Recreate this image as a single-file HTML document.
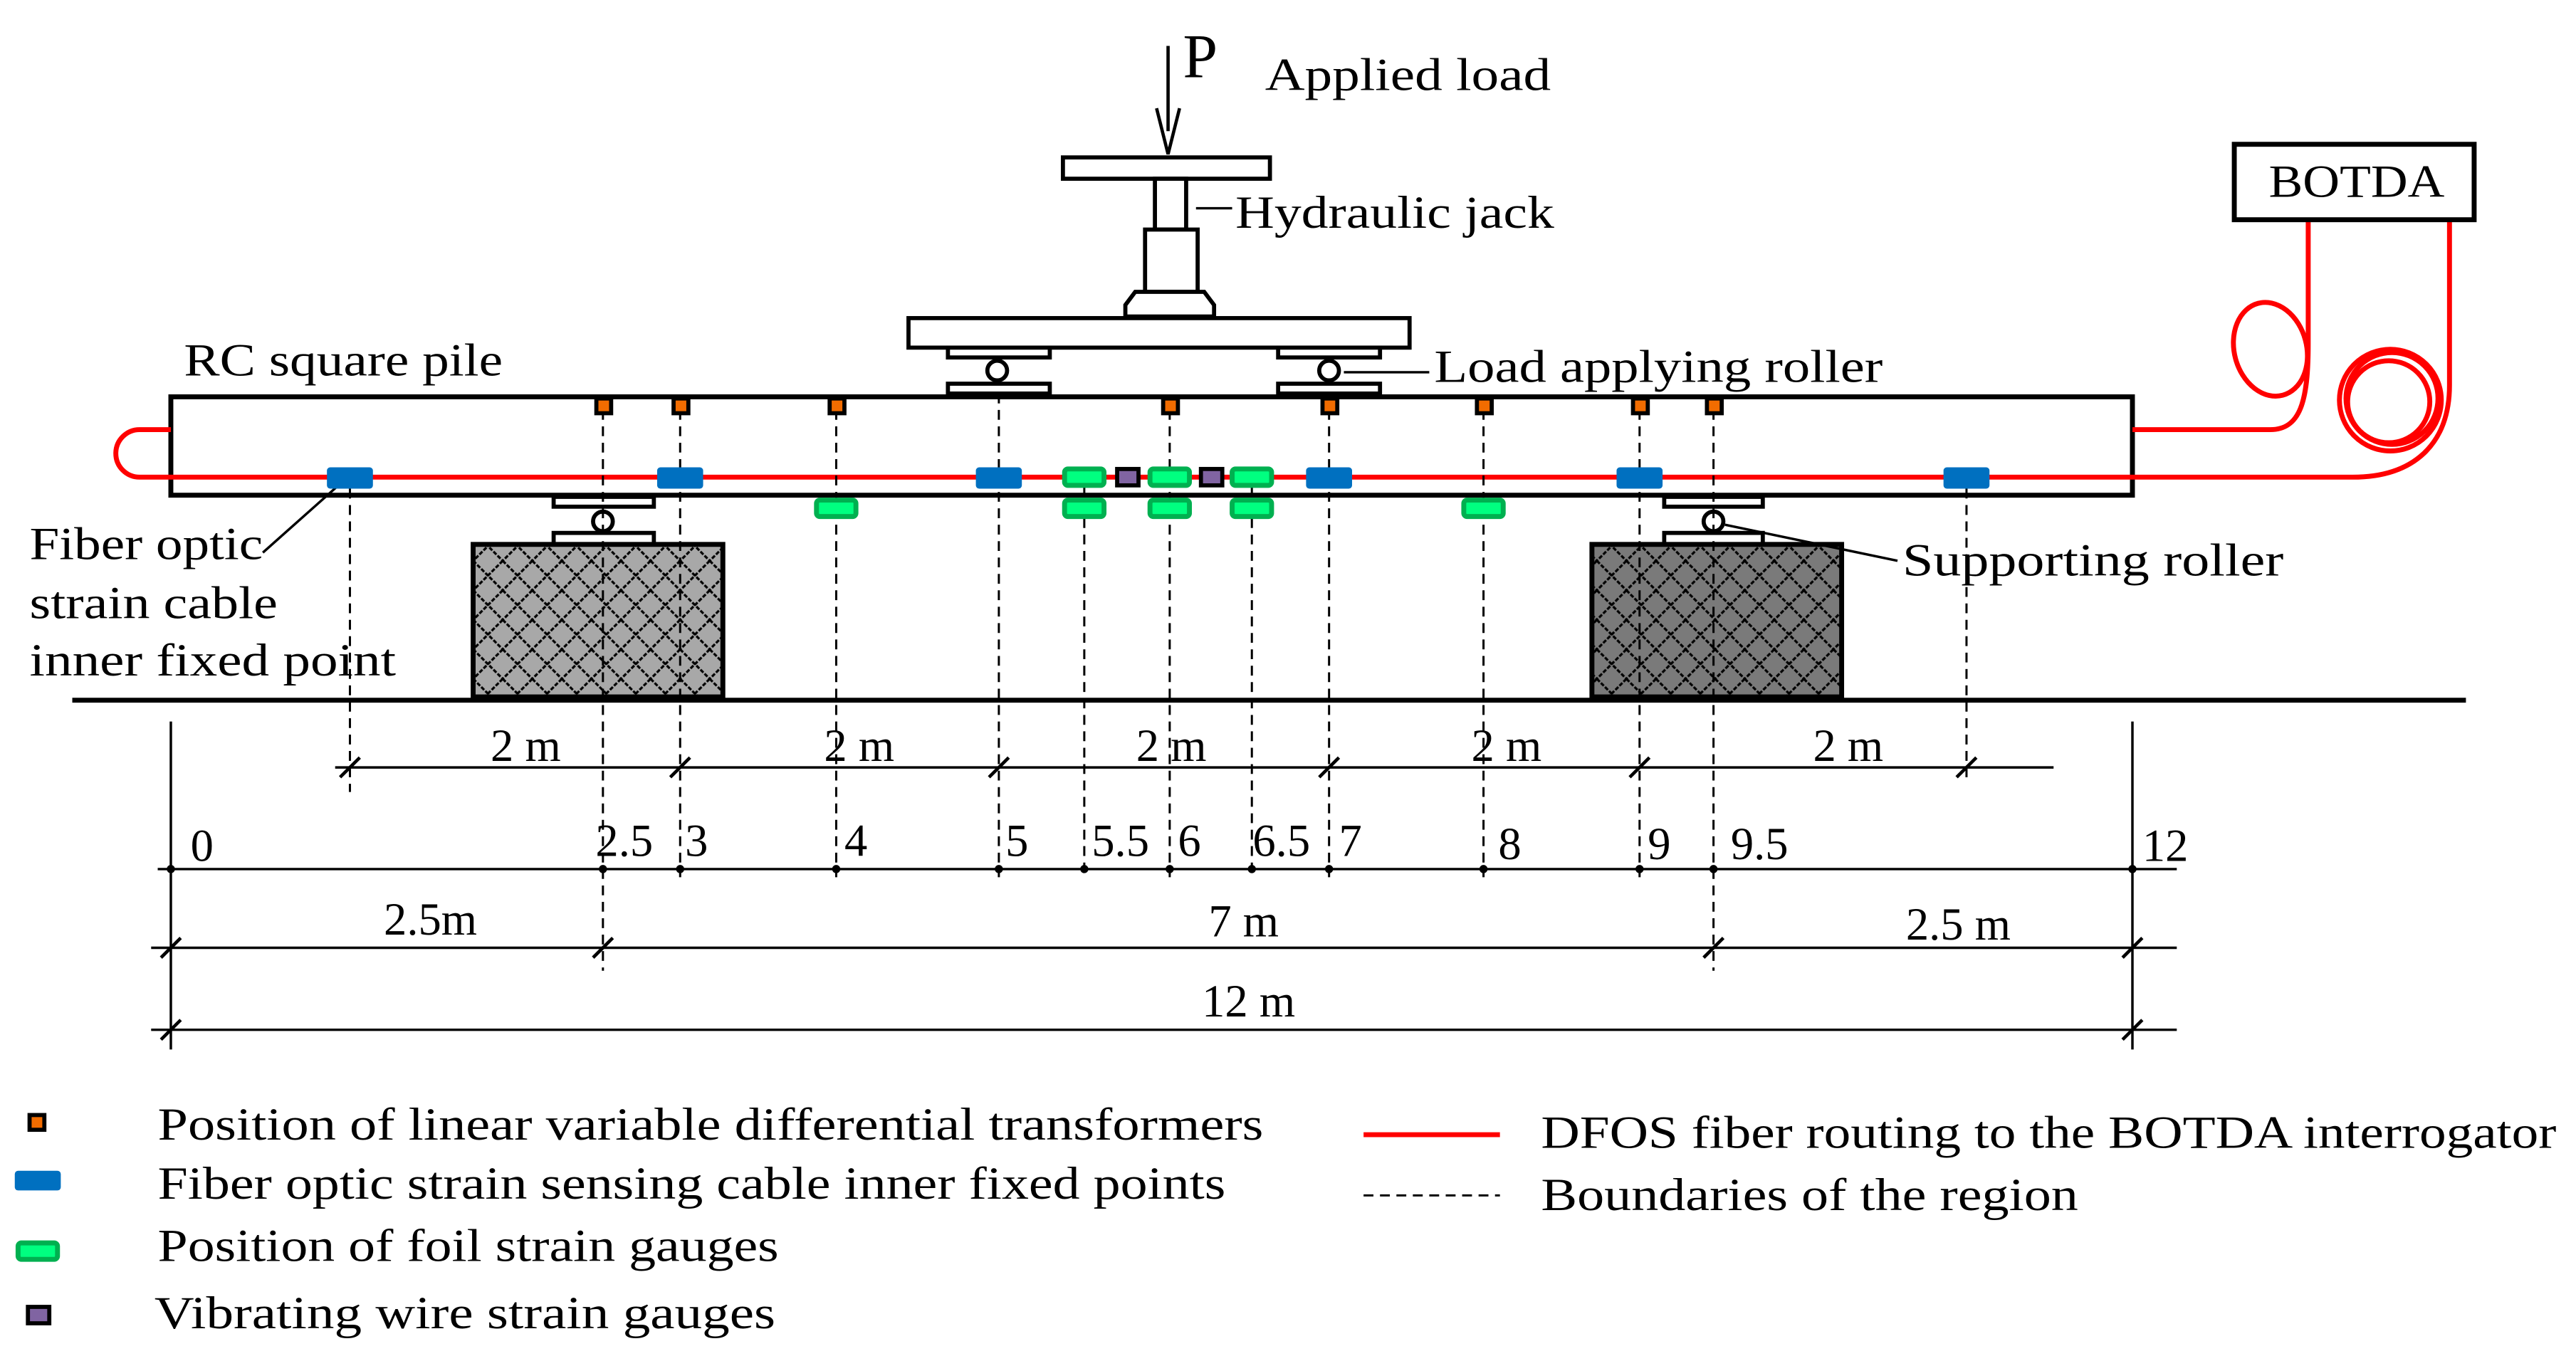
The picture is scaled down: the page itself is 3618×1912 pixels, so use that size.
<!DOCTYPE html>
<html><head><meta charset="utf-8"><style>
html,body{margin:0;padding:0;background:#fff;}
svg{display:block;}
text{font-family:"Liberation Serif",serif;fill:#000;}
</style></head><body>
<svg width="3618" height="1912" viewBox="0 0 1568 830" preserveAspectRatio="none" xmlns="http://www.w3.org/2000/svg">
<defs>
<pattern id="h1" width="18" height="18" patternUnits="userSpaceOnUse">
<rect width="18" height="18" fill="#a8a8a8"/>
<path d="M0,0 L18,18 M18,0 L0,18" stroke="#000" stroke-width="1.4" stroke-dasharray="2.5,1"/>
</pattern>
<pattern id="h2" width="18" height="18" patternUnits="userSpaceOnUse">
<rect width="18" height="18" fill="#7a7a7a"/>
<path d="M0,0 L18,18 M18,0 L0,18" stroke="#000" stroke-width="1.4" stroke-dasharray="2.5,1"/>
</pattern>
</defs>

<line x1="711" y1="28" x2="711" y2="80" stroke="#000" stroke-width="2"/>
<path d="M704,66 L711,94 L718,66" fill="none" stroke="#000" stroke-width="2"/>
<text x="720" y="47" font-size="38">P</text>
<text x="770" y="55" font-size="28" textLength="174" lengthAdjust="spacingAndGlyphs">Applied load</text>

<rect x="647" y="96" width="126" height="13" fill="#fff" stroke="#000" stroke-width="2.5"/>
<rect x="703" y="109" width="19" height="31" fill="#fff" stroke="#000" stroke-width="2.5"/>
<rect x="697" y="140" width="32" height="38" fill="#fff" stroke="#000" stroke-width="2.5"/>
<path d="M691,178 L733,178 L739,186 L739,193 L685,193 L685,186 Z" fill="#fff" stroke="#000" stroke-width="2.5"/>
<line x1="728" y1="127" x2="750" y2="127" stroke="#000" stroke-width="1.5"/>
<text x="752" y="139" font-size="28" textLength="194" lengthAdjust="spacingAndGlyphs">Hydraulic jack</text>
<rect x="553" y="194" width="305" height="18" fill="#fff" stroke="#000" stroke-width="2.5"/>

<g fill="#fff" stroke="#000" stroke-width="2.5">
<rect x="577" y="212" width="62" height="6"/><circle cx="607" cy="226" r="6"/><rect x="577" y="234" width="62" height="6"/>
<rect x="778" y="212" width="62" height="6"/><circle cx="809" cy="226" r="6"/><rect x="778" y="234" width="62" height="6"/>
</g>
<line x1="818" y1="227" x2="870" y2="227" stroke="#000" stroke-width="1.5"/>
<text x="873" y="233" font-size="28" textLength="273" lengthAdjust="spacingAndGlyphs">Load applying roller</text>

<text x="112" y="229" font-size="28" textLength="194" lengthAdjust="spacingAndGlyphs">RC square pile</text>
<rect x="104" y="242" width="1194" height="60" fill="#fff" stroke="#000" stroke-width="3"/>

<g fill="none" stroke="#f00" stroke-width="3">
<path d="M104,262 H85 A14.5,14.5 0 0 0 85,291 H1432 C1470,291 1491,270 1491,235 V134"/>
<path d="M1298,262 H1382 C1400,262 1405,245 1405,210 V134"/>
<ellipse cx="1382" cy="213" rx="22" ry="29" transform="rotate(-15 1382 213)"/>
<circle cx="1456" cy="243" r="28"/>
<circle cx="1455" cy="244" r="31"/>
<circle cx="1454" cy="245" r="25"/>
</g>
<rect x="1360" y="88" width="146" height="46" fill="#fff" stroke="#000" stroke-width="3"/>
<text x="1381" y="120" font-size="28" textLength="107" lengthAdjust="spacingAndGlyphs">BOTDA</text>

<g fill="#fff" stroke="#000" stroke-width="2.5">
<rect x="337" y="303" width="61" height="6"/><circle cx="367" cy="318" r="6"/><rect x="337" y="325" width="61" height="7"/>
<rect x="1013" y="303" width="60" height="6"/><circle cx="1043" cy="318" r="6"/><rect x="1013" y="325" width="60" height="7"/>
</g>
<rect x="288" y="332" width="152" height="93" fill="url(#h1)" stroke="#000" stroke-width="3"/>
<rect x="969" y="332" width="152" height="93" fill="url(#h2)" stroke="#000" stroke-width="3"/>
<line x1="44" y1="427" x2="1501" y2="427" stroke="#000" stroke-width="3"/>
<line x1="1050" y1="320" x2="1155" y2="342" stroke="#000" stroke-width="1.5"/>
<text x="1158" y="351" font-size="28" textLength="232" lengthAdjust="spacingAndGlyphs">Supporting roller</text>

<line x1="160" y1="337" x2="206" y2="296" stroke="#000" stroke-width="1.5"/>
<text x="18" y="341" font-size="28" textLength="142" lengthAdjust="spacingAndGlyphs">Fiber optic</text>
<text x="18" y="377" font-size="28" textLength="151" lengthAdjust="spacingAndGlyphs">strain cable</text>
<text x="18" y="412" font-size="28" textLength="223" lengthAdjust="spacingAndGlyphs">inner fixed point</text>

<g stroke="#000" stroke-width="1.3" stroke-dasharray="6,4">
<line x1="213" y1="298" x2="213" y2="483"/>
<line x1="367" y1="250" x2="367" y2="592"/>
<line x1="414" y1="250" x2="414" y2="535"/>
<line x1="509" y1="250" x2="509" y2="535"/>
<line x1="608" y1="240" x2="608" y2="535"/>
<line x1="660" y1="296" x2="660" y2="535"/>
<line x1="712" y1="250" x2="712" y2="535"/>
<line x1="762" y1="296" x2="762" y2="535"/>
<line x1="809" y1="250" x2="809" y2="535"/>
<line x1="903" y1="250" x2="903" y2="535"/>
<line x1="998" y1="250" x2="998" y2="535"/>
<line x1="1043" y1="250" x2="1043" y2="592"/>
<line x1="1197" y1="298" x2="1197" y2="478"/>
</g>

<g fill="#0070c0">
<rect x="199" y="285" width="28" height="13" rx="2"/>
<rect x="400" y="285" width="28" height="13" rx="2"/>
<rect x="594" y="285" width="28" height="13" rx="2"/>
<rect x="795" y="285" width="28" height="13" rx="2"/>
<rect x="984" y="285" width="28" height="13" rx="2"/>
<rect x="1183" y="285" width="28" height="13" rx="2"/>
</g>
<g fill="#00ff80" stroke="#00b050" stroke-width="3">
<rect x="648" y="286" width="24" height="10" rx="2"/>
<rect x="700" y="286" width="24" height="10" rx="2"/>
<rect x="750" y="286" width="24" height="10" rx="2"/>
<rect x="497" y="305" width="24" height="10" rx="2"/>
<rect x="648" y="305" width="24" height="10" rx="2"/>
<rect x="700" y="305" width="24" height="10" rx="2"/>
<rect x="750" y="305" width="24" height="10" rx="2"/>
<rect x="891" y="305" width="24" height="10" rx="2"/>
</g>
<g fill="#8064a2" stroke="#000" stroke-width="2.5">
<rect x="680" y="286" width="13" height="10"/>
<rect x="731" y="286" width="13" height="10"/>
</g>
<g fill="#f26c00" stroke="#000" stroke-width="2.5">
<rect x="363" y="243" width="9" height="9"/>
<rect x="410" y="243" width="9" height="9"/>
<rect x="505" y="243" width="9" height="9"/>
<rect x="708" y="243" width="9" height="9"/>
<rect x="805" y="243" width="9" height="9"/>
<rect x="899" y="243" width="9" height="9"/>
<rect x="994" y="243" width="9" height="9"/>
<rect x="1039" y="243" width="9" height="9"/>
</g>

<g stroke="#000" stroke-width="1.5">
<line x1="104" y1="440" x2="104" y2="640"/>
<line x1="1298" y1="440" x2="1298" y2="640"/>
<line x1="204" y1="468" x2="1250" y2="468"/>
<line x1="96" y1="530" x2="1325" y2="530"/>
<line x1="92" y1="578" x2="1325" y2="578"/>
<line x1="92" y1="628" x2="1325" y2="628"/>
</g>
<g stroke="#000" stroke-width="2">
<line x1="207" y1="474" x2="219" y2="462"/><line x1="408" y1="474" x2="420" y2="462"/><line x1="602" y1="474" x2="614" y2="462"/>
<line x1="803" y1="474" x2="815" y2="462"/><line x1="992" y1="474" x2="1004" y2="462"/><line x1="1191" y1="474" x2="1203" y2="462"/>
<line x1="98" y1="584" x2="110" y2="572"/><line x1="361" y1="584" x2="373" y2="572"/><line x1="1037" y1="584" x2="1049" y2="572"/><line x1="1292" y1="584" x2="1304" y2="572"/>
<line x1="98" y1="634" x2="110" y2="622"/><line x1="1292" y1="634" x2="1304" y2="622"/>
</g>
<g fill="#000">
<circle cx="104" cy="530" r="2.5"/><circle cx="367" cy="530" r="2.5"/><circle cx="414" cy="530" r="2.5"/><circle cx="509" cy="530" r="2.5"/>
<circle cx="608" cy="530" r="2.5"/><circle cx="660" cy="530" r="2.5"/><circle cx="712" cy="530" r="2.5"/><circle cx="762" cy="530" r="2.5"/>
<circle cx="809" cy="530" r="2.5"/><circle cx="903" cy="530" r="2.5"/><circle cx="998" cy="530" r="2.5"/><circle cx="1043" cy="530" r="2.5"/><circle cx="1298" cy="530" r="2.5"/>
</g>
<g font-size="28" text-anchor="middle">
<text x="320" y="464">2 m</text><text x="523" y="464">2 m</text><text x="713" y="464">2 m</text><text x="917" y="464">2 m</text><text x="1125" y="464">2 m</text>
<text x="123" y="525">0</text><text x="380" y="522">2.5</text><text x="424" y="522">3</text><text x="521" y="522">4</text><text x="619" y="522">5</text>
<text x="682" y="522">5.5</text><text x="724" y="522">6</text><text x="780" y="522">6.5</text><text x="822" y="522">7</text><text x="919" y="524">8</text>
<text x="1010" y="524">9</text><text x="1071" y="524">9.5</text><text x="1318" y="525">12</text>
<text x="262" y="570">2.5m</text><text x="757" y="571">7 m</text><text x="1192" y="573">2.5 m</text>
<text x="760" y="620">12 m</text>
</g>

<rect x="18" y="680" width="9" height="9" fill="#f26c00" stroke="#000" stroke-width="2.5"/>
<rect x="9" y="714" width="28" height="12" rx="2" fill="#0070c0"/>
<rect x="11" y="758" width="24" height="10" rx="2" fill="#00ff80" stroke="#00b050" stroke-width="3"/>
<rect x="17" y="797" width="13" height="10" fill="#8064a2" stroke="#000" stroke-width="2.5"/>
<g font-size="28">
<text x="96" y="695" textLength="673" lengthAdjust="spacingAndGlyphs">Position of linear variable differential transformers</text>
<text x="96" y="731" textLength="650" lengthAdjust="spacingAndGlyphs">Fiber optic strain sensing cable inner fixed points</text>
<text x="96" y="769" textLength="378" lengthAdjust="spacingAndGlyphs">Position of foil strain gauges</text>
<text x="94" y="810" textLength="378" lengthAdjust="spacingAndGlyphs">Vibrating wire strain gauges</text>
<text x="938" y="700" textLength="618" lengthAdjust="spacingAndGlyphs">DFOS fiber routing to the BOTDA interrogator</text>
<text x="938" y="738" textLength="327" lengthAdjust="spacingAndGlyphs">Boundaries of the region</text>
</g>
<line x1="830" y1="692" x2="913" y2="692" stroke="#f00" stroke-width="3"/>
<line x1="830" y1="729" x2="913" y2="729" stroke="#000" stroke-width="1.3" stroke-dasharray="6,4"/>
</svg>
</body></html>
